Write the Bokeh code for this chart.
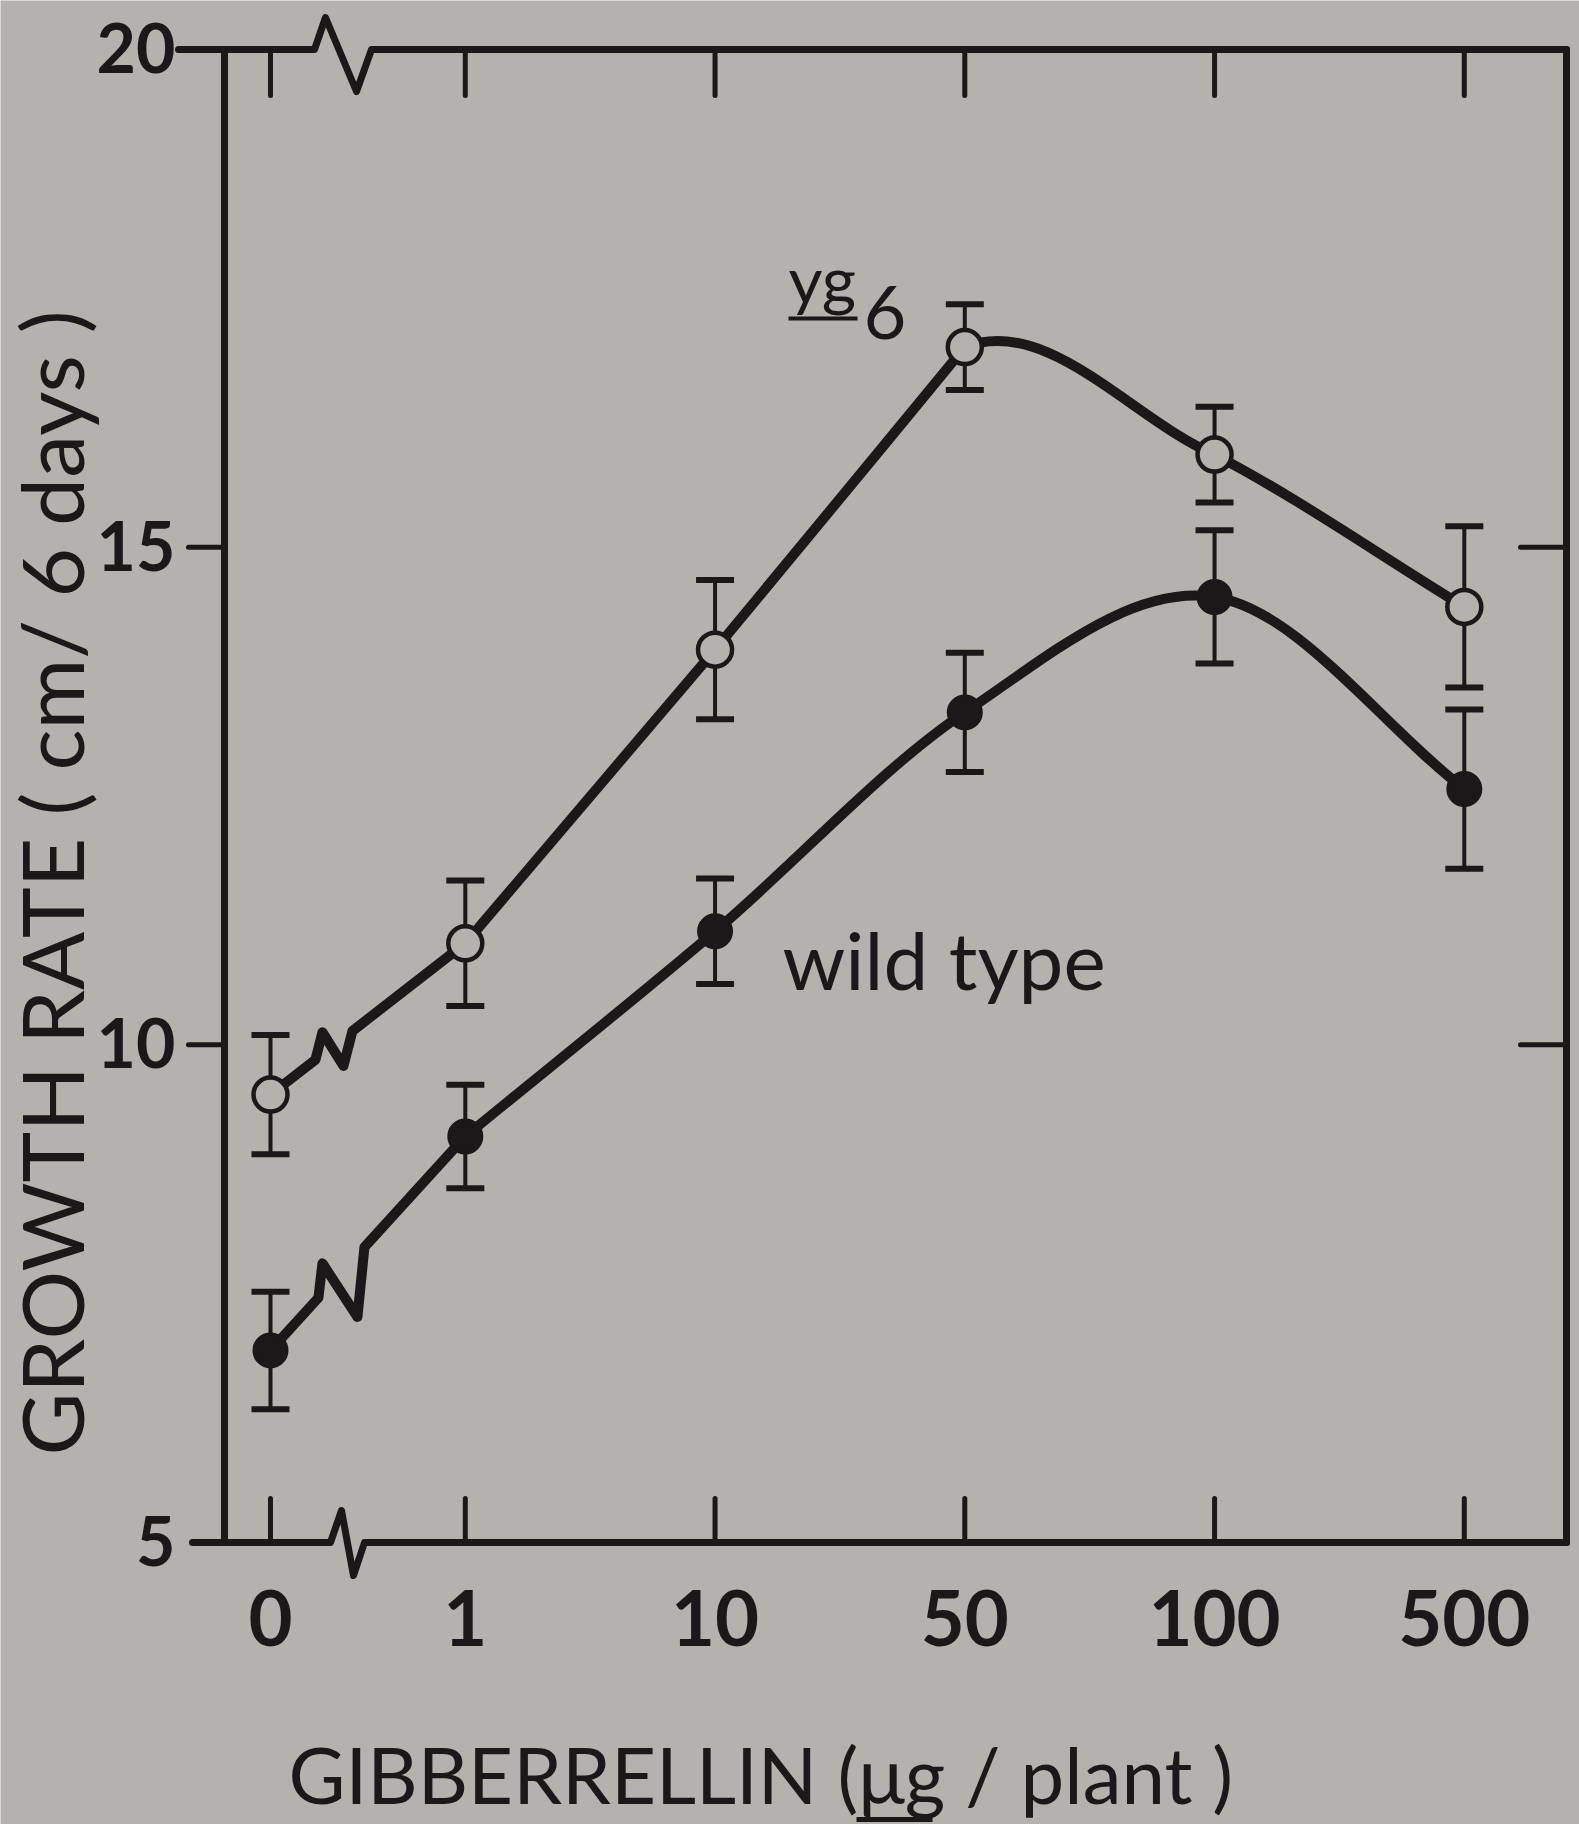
from bokeh.plotting import figure
from bokeh.models import Range1d, Label, ColumnDataSource, Whisker, TeeHead
from bokeh.embed import file_html
from bokeh.resources import INLINE

# ---------------- data ----------------
doses = ["0", "1", "10", "50", "100", "500"]
yg6 = [9.50, 11.02, 13.97, 17.01, 15.93, 14.40]
yg6_err = [0.60, 0.63, 0.70, 0.43, 0.48, 0.81]
wild = [6.93, 9.08, 11.14, 13.34, 14.50, 12.57]
wild_err = [0.59, 0.52, 0.53, 0.60, 0.67, 0.80]
y_ticks = [5, 10, 15, 20]
y_title = "GROWTH RATE ( cm/ 6 days )"
x_title = "GIBBERRELLIN (μg / plant )"
yg6_name, yg6_sub = "yg", "6"
wild_name = "wild type"

# ---------------- layout / style ----------------
W, H = 1579, 1824
BOX_L, BOX_R = 224, 1566
X0_PX, X_STEP = 270, 249.75
Y_TOP_PX, Y_BOT_PX = 49, 1542
YMIN, YMAX = 5, 20
GAP0 = 0.78
YU = (Y_BOT_PX - Y_TOP_PX) / (YMAX - YMIN)
BG = "#b4b2ac"
INK = "#1b1819"
FONT = "Lato"
SHIFT = 0.38   # em, correction of the label anchor


def px2x(px):
    return (px - X0_PX) / X_STEP


def py2y(py):
    return YMAX - (py - Y_TOP_PX) / YU


def x2px(x):
    return X0_PX + x * X_STEP


def y2py(y):
    return Y_TOP_PX + (YMAX - y) * YU


def dxp(px):
    return px / X_STEP


def dyp(px):
    return px / YU


xpos = [0.0] + [GAP0 + i for i in range(len(doses) - 1)]

p = figure(width=W, height=H,
           x_range=Range1d(px2x(0), px2x(W)),
           y_range=Range1d(py2y(H), py2y(0)),
           output_backend="svg", toolbar_location=None, title=None,
           x_axis_location=None, y_axis_location=None,
           min_border=0, min_border_left=0, min_border_right=0,
           min_border_top=0, min_border_bottom=0,
           background_fill_color=BG, border_fill_color=BG,
           outline_line_color=None)
p.grid.visible = False


def add_text(text, px, py, size, align="left", bold=False, angle=0):
    if angle == 0:
        x, y = px2x(px), py2y(py - SHIFT * size)
    else:
        x, y = px2x(px - SHIFT * size), py2y(py)
    p.add_layout(Label(x=x, y=y, text=text, text_font=FONT,
                       text_font_style="bold" if bold else "normal",
                       text_font_size=f"{size}px", text_color=INK,
                       text_align=align, text_baseline="alphabetic",
                       angle=angle, angle_units="deg"))


# ---------------- box with breaks ----------------
BXL, BXR = px2x(BOX_L), px2x(BOX_R)
LW = 7


def zigzag(bx, xa_, ya_, xb_, yb_, shape):
    slope = (yb_ - ya_) / (xb_ - xa_)
    xs, ys = [], []
    for ox, oy in shape:
        x = bx + dxp(ox)
        xs.append(x)
        ys.append(ya_ + slope * (x - xa_) + dyp(oy))
    return xs, ys


TOP_BREAK = [(-28, 0), (-17, 32), (14, -42), (29, 0)]
BOT_BREAK = [(-17, 0), (-6, 32), (6, -33), (17, 0)]
YG_BREAK = [(-20, 0), (-13, 22), (8, -28), (17, 0)]
WT_BREAK = [(-22, 0), (-18, 30), (17, -62), (24, 0)]

top_start = BXL - dxp(46)
zx, zy = zigzag(px2x(342), top_start, YMAX, BXR, YMAX, TOP_BREAK)
p.line([top_start] + zx + [BXR], [YMAX] + zy + [YMAX], line_width=LW,
       line_color=INK, line_cap="round", line_join="round")
bot_start = BXL - dxp(32)
zx, zy = zigzag(px2x(347), bot_start, YMIN, BXR, YMIN, BOT_BREAK)
p.line([bot_start] + zx + [BXR], [YMIN] + zy + [YMIN], line_width=LW,
       line_color=INK, line_cap="round", line_join="round")
p.segment(x0=[BXL, BXR], y0=[YMIN, YMIN], x1=[BXL, BXR], y1=[YMAX, YMAX],
          line_width=LW, line_color=INK, line_cap="round")

# ticks
p.segment(x0=xpos, y0=[YMAX] * len(xpos), x1=xpos, y1=[YMAX - dyp(46)] * len(xpos),
          line_width=5, line_color=INK, line_cap="round")
p.segment(x0=xpos, y0=[YMIN] * len(xpos), x1=xpos, y1=[YMIN + dyp(44)] * len(xpos),
          line_width=5, line_color=INK, line_cap="round")
inner = y_ticks[1:-1]
p.segment(x0=[BXL - dxp(36)] * len(inner), y0=inner, x1=[BXL] * len(inner), y1=inner,
          line_width=5, line_color=INK, line_cap="round")
p.segment(x0=[BXR - dxp(46)] * len(inner), y0=inner, x1=[BXR] * len(inner), y1=inner,
          line_width=5, line_color=INK, line_cap="round")


# ---------------- curves ----------------
def draw_series(vals, brk_center, brk_shape, sharp_left):
    zx, zy = zigzag(brk_center, xpos[0], vals[0], xpos[1], vals[1], brk_shape)
    p.line([xpos[0]] + zx + [xpos[1]], [vals[0]] + zy + [vals[1]], line_width=10,
           line_color=INK, line_cap="round", line_join="round")
    xs, ys = xpos[1:], vals[1:]
    n = len(xs)
    chord = [(ys[i + 1] - ys[i]) / (xs[i + 1] - xs[i]) for i in range(n - 1)]
    cr = [chord[0]] + [(ys[i + 1] - ys[i - 1]) / (xs[i + 1] - xs[i - 1])
                       for i in range(1, n - 1)] + [chord[-1]]
    right = cr[:-1]
    left = [None] + (chord if sharp_left else cr[1:])
    src = dict(x0=[], y0=[], x1=[], y1=[], cx0=[], cy0=[], cx1=[], cy1=[])
    for i in range(n - 1):
        h = xs[i + 1] - xs[i]
        src["x0"].append(xs[i]); src["y0"].append(ys[i])
        src["x1"].append(xs[i + 1]); src["y1"].append(ys[i + 1])
        src["cx0"].append(xs[i] + h / 3); src["cy0"].append(ys[i] + right[i] * h / 3)
        src["cx1"].append(xs[i + 1] - h / 3); src["cy1"].append(ys[i + 1] - left[i + 1] * h / 3)
    p.bezier(x0="x0", y0="y0", x1="x1", y1="y1", cx0="cx0", cy0="cy0", cx1="cx1", cy1="cy1",
             source=ColumnDataSource(src), line_width=10, line_color=INK, line_cap="round")


draw_series(yg6, 0.26, YG_BREAK, sharp_left=True)
draw_series(wild, 0.28, WT_BREAK, sharp_left=False)

for vals, errs in ((yg6, yg6_err), (wild, wild_err)):
    es = ColumnDataSource(dict(x=xpos, lower=[v - e for v, e in zip(vals, errs)],
                               upper=[v + e for v, e in zip(vals, errs)]))
    wk = Whisker(source=es, base="x", lower="lower", upper="upper", dimension="height",
                 line_width=4, line_color=INK, level="underlay",
                 lower_head=TeeHead(size=38, line_width=6, line_color=INK),
                 upper_head=TeeHead(size=38, line_width=6, line_color=INK))
    p.add_layout(wk)

p.scatter(xpos, yg6, marker="circle", size=34, fill_color=BG, line_color=INK, line_width=4.5)
p.scatter(xpos, wild, marker="circle", size=34, fill_color=INK, line_color=INK, line_width=2)

# ---------------- texts ----------------
for yt in y_ticks:
    add_text(str(yt), 175, y2py(yt) + 0.36 * 68, 68, align="right", bold=True)
for xp, d in zip(xpos, doses):
    add_text(d, x2px(xp), 1646, 76, align="center", bold=True)

add_text(yg6_name, 788, 303, 66)
p.segment(x0=[px2x(788)], y0=[py2y(318)], x1=[px2x(857)], y1=[py2y(318)],
          line_width=4, line_color=INK)
add_text(yg6_sub, 863, 340, 74)
add_text(wild_name, 782, 989, 80)

add_text(x_title, 760, 1803, 78, align="center")
p.segment(x0=[px2x(856)], y0=[py2y(1819)], x1=[px2x(932)], y1=[py2y(1819)],
          line_width=5, line_color=INK)
add_text(y_title, 83, 1455, 86, align="left", angle=90)

open("out.html", "w").write(file_html(p, INLINE))
